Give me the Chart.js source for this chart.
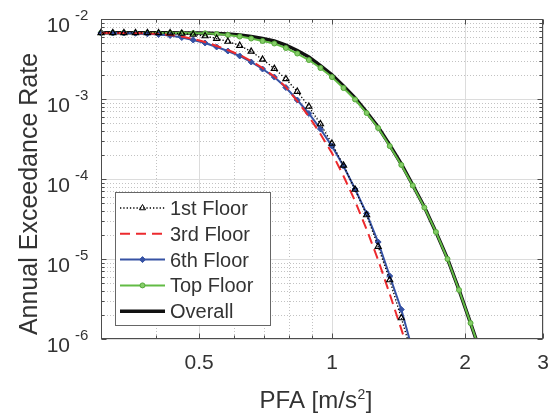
<!DOCTYPE html>
<html>
<head>
<meta charset="utf-8">
<script src="https://cdn.jsdelivr.net/npm/chart.js@4.4.1/dist/chart.umd.min.js"></script>
<style>
    body { margin: 0; background: #ffffff; }
    .chart-container { position: relative; width: 551px; height: 416px; }
</style>
</head>
<body>
<div class="chart-container">
    <canvas id="chart"></canvas>
</div>
<script>
// PFA values [m/s2] of the curve points
const pfa = [0.300, 0.319, 0.338, 0.359, 0.382, 0.405, 0.430, 0.457, 0.485, 0.516,
             0.548, 0.581, 0.618, 0.656, 0.696, 0.740, 0.786, 0.834, 0.886, 0.941,
             0.999, 1.061, 1.127, 1.197, 1.271, 1.350, 1.434, 1.522, 1.617, 1.717,
             1.824, 1.937, 2.057, 2.184];

const floor1 = [6.72e-3, 6.71e-3, 6.71e-3, 6.70e-3, 6.70e-3, 6.69e-3, 6.67e-3, 6.59e-3, 6.40e-3, 6.13e-3,
                5.70e-3, 5.23e-3, 4.66e-3, 3.93e-3, 3.12e-3, 2.40e-3, 1.78e-3, 1.24e-3, 8.06e-4, 4.87e-4,
                2.78e-4, 1.48e-4, 7.39e-5, 3.55e-5, 1.43e-5, 5.46e-6, 1.83e-6, 5.96e-7];

const floor3 = [6.70e-3, 6.70e-3, 6.69e-3, 6.67e-3, 6.59e-3, 6.49e-3, 6.31e-3, 6.04e-3, 5.62e-3, 5.16e-3,
                4.60e-3, 4.10e-3, 3.55e-3, 2.99e-3, 2.44e-3, 1.91e-3, 1.41e-3, 9.44e-4, 6.04e-4, 3.65e-4,
                2.11e-4, 1.09e-4, 5.31e-5, 2.34e-5, 9.72e-6, 3.65e-6, 1.33e-6, 4.73e-7];

const floor6 = [6.70e-3, 6.70e-3, 6.68e-3, 6.63e-3, 6.53e-3, 6.40e-3, 6.22e-3, 5.87e-3, 5.46e-3, 5.01e-3,
                4.47e-3, 3.98e-3, 3.45e-3, 2.90e-3, 2.37e-3, 1.88e-3, 1.39e-3, 9.72e-4, 6.59e-4, 4.22e-4,
                2.58e-4, 1.45e-4, 7.50e-5, 3.70e-5, 1.63e-5, 6.13e-6, 2.34e-6, 7.08e-7];

const topFloor = [6.70e-3, 6.70e-3, 6.70e-3, 6.70e-3, 6.69e-3, 6.69e-3, 6.68e-3, 6.67e-3, 6.65e-3, 6.62e-3,
                  6.49e-3, 6.31e-3, 6.04e-3, 5.70e-3, 5.31e-3, 4.94e-3, 4.34e-3, 3.70e-3, 3.07e-3, 2.44e-3,
                  1.88e-3, 1.37e-3, 9.86e-4, 6.68e-4, 4.34e-4, 2.58e-4, 1.50e-4, 8.29e-5, 4.40e-5, 2.18e-5,
                  1.00e-5, 4.10e-6, 1.58e-6, 5.96e-7];

const overall = [6.72e-3, 6.72e-3, 6.72e-3, 6.72e-3, 6.72e-3, 6.71e-3, 6.71e-3, 6.70e-3, 6.69e-3, 6.67e-3,
                 6.60e-3, 6.49e-3, 6.31e-3, 6.04e-3, 5.70e-3, 5.31e-3, 4.73e-3, 4.04e-3, 3.35e-3, 2.62e-3,
                 2.00e-3, 1.45e-3, 1.03e-3, 6.88e-4, 4.47e-4, 2.66e-4, 1.54e-4, 8.41e-5, 4.47e-5, 2.18e-5,
                 1.01e-5, 4.10e-6, 1.58e-6, 5.96e-7];

const seriesLabels = ['1st Floor', '3rd Floor', '6th Floor', 'Top Floor', 'Overall'];

// axis ticks
const xTicks = [0.5, 1, 2, 3];
const xTickLabels = ['0.5', '1', '2', '3'];
const xMinor = [0.4, 0.6, 0.7, 0.8, 0.9];
const yTicks = [1e-6, 1e-5, 1e-4, 1e-3, 1e-2];
const yTickExp = ['-6', '-5', '-4', '-3', '-2'];

const FONT = '"Liberation Sans", Arial, Helvetica, sans-serif';
const TEXT = '#333333';

function toPoints(values) {
    return values.map((v, i) => ({x: pfa[i], y: v}));
}

function yMinorValues() {
    let out = [];
    yTicks.slice(0, -1).forEach(d => {
        for (let m = 2; m <= 9; m++) out.push(m * d);
    });
    return out;
}

function drawMarker(ctx, style, x, y, r, fill, stroke) {
    ctx.beginPath();
    if (style === 'triangle') {
        ctx.moveTo(x, y - r);
        ctx.lineTo(x + r * 0.87, y + r * 0.5);
        ctx.lineTo(x - r * 0.87, y + r * 0.5);
        ctx.closePath();
    } else if (style === 'rectRot') {
        ctx.moveTo(x, y - r);
        ctx.lineTo(x + r, y);
        ctx.lineTo(x, y + r);
        ctx.lineTo(x - r, y);
        ctx.closePath();
    } else {
        ctx.arc(x, y, r, 0, Math.PI * 2);
    }
    ctx.fillStyle = fill;
    ctx.fill();
    ctx.lineWidth = 1;
    ctx.strokeStyle = stroke;
    ctx.stroke();
}

const matlabAxes = {
    id: 'matlabAxes',
    beforeDatasetsDraw(chart) {
        const {ctx, chartArea: a, scales: {x, y}} = chart;
        ctx.save();
        ctx.lineWidth = 1;
        // minor grid, dotted
        ctx.setLineDash([1, 2]);
        ctx.strokeStyle = '#c2c2c2';
        xMinor.forEach(v => {
            const px = Math.round(x.getPixelForValue(v)) + 0.5;
            ctx.beginPath(); ctx.moveTo(px, a.top); ctx.lineTo(px, a.bottom); ctx.stroke();
        });
        yMinorValues().forEach(v => {
            const py = Math.round(y.getPixelForValue(v)) + 0.5;
            ctx.beginPath(); ctx.moveTo(a.left, py); ctx.lineTo(a.right, py); ctx.stroke();
        });
        // major grid
        ctx.setLineDash([]);
        ctx.strokeStyle = '#dcdcdc';
        xTicks.forEach(v => {
            const px = Math.round(x.getPixelForValue(v)) + 0.5;
            ctx.beginPath(); ctx.moveTo(px, a.top); ctx.lineTo(px, a.bottom); ctx.stroke();
        });
        yTicks.forEach(v => {
            const py = Math.round(y.getPixelForValue(v)) + 0.5;
            ctx.beginPath(); ctx.moveTo(a.left, py); ctx.lineTo(a.right, py); ctx.stroke();
        });
        ctx.restore();
    },
    afterDatasetsDraw(chart) {
        const {ctx, chartArea: a, scales: {x, y}} = chart;
        ctx.save();
        const L = Math.round(a.left) + 0.5, R = Math.round(a.right) - 0.5;
        const T = Math.round(a.top) + 0.5, B = Math.round(a.bottom) - 0.5;

        // box and tick marks (inside)
        ctx.strokeStyle = '#4d4d4d';
        ctx.lineWidth = 1;
        ctx.strokeRect(L, T, R - L, B - T);
        ctx.beginPath();
        xTicks.concat(xMinor).forEach((v, i) => {
            const len = i < xTicks.length ? 5 : 3;
            const px = Math.round(x.getPixelForValue(v)) + 0.5;
            ctx.moveTo(px, B); ctx.lineTo(px, B - len);
            ctx.moveTo(px, T); ctx.lineTo(px, T + len);
        });
        yTicks.concat(yMinorValues()).forEach((v, i) => {
            const len = i < yTicks.length ? 5 : 3;
            const py = Math.round(y.getPixelForValue(v)) + 0.5;
            ctx.moveTo(L, py); ctx.lineTo(L + len, py);
            ctx.moveTo(R, py); ctx.lineTo(R - len, py);
        });
        ctx.stroke();

        // tick labels
        ctx.fillStyle = TEXT;
        ctx.textBaseline = 'alphabetic';
        ctx.font = '21px ' + FONT;
        ctx.textAlign = 'center';
        xTicks.forEach((v, i) => {
            ctx.fillText(xTickLabels[i], x.getPixelForValue(v), 369);
        });
        yTicks.forEach((v, i) => {
            const py = y.getPixelForValue(v);
            ctx.font = '21px ' + FONT;
            ctx.textAlign = 'right';
            ctx.fillText('10', 70, py + 13);
            ctx.font = '15px ' + FONT;
            ctx.textAlign = 'left';
            ctx.fillText(yTickExp[i], 75, py + 1);
        });

        // axis titles
        ctx.font = '24px ' + FONT;
        const part1 = 'PFA [m/s', part3 = ']';
        const w1 = ctx.measureText(part1).width, w3 = ctx.measureText(part3).width;
        ctx.font = '14px ' + FONT;
        const w2 = ctx.measureText('2').width + 1;
        let sx = 316 - (w1 + w2 + w3) / 2;
        ctx.textAlign = 'left';
        ctx.font = '24px ' + FONT;
        ctx.fillText(part1, sx, 408);
        ctx.font = '14px ' + FONT;
        ctx.fillText('2', sx + w1 + 0.5, 399);
        ctx.font = '24px ' + FONT;
        ctx.fillText(part3, sx + w1 + w2, 408);

        ctx.save();
        ctx.translate(37, 194);
        ctx.rotate(-Math.PI / 2);
        ctx.textAlign = 'center';
        ctx.font = '25px ' + FONT;
        ctx.fillText('Annual Exceedance Rate', 0, 0);
        ctx.restore();

        // legend
        const box = {left: 115.5, top: 192.5, right: 270.5, bottom: 325.5};
        ctx.fillStyle = '#ffffff';
        ctx.fillRect(box.left, box.top, box.right - box.left, box.bottom - box.top);
        ctx.strokeStyle = '#666666';
        ctx.lineWidth = 1;
        ctx.strokeRect(box.left, box.top, box.right - box.left, box.bottom - box.top);
        chart.data.datasets.forEach((ds, i) => {
            const cy = 208 + i * 25.8;
            ctx.save();
            ctx.strokeStyle = ds.borderColor;
            ctx.lineWidth = ds.borderWidth;
            ctx.setLineDash(ds.borderDash || []);
            ctx.beginPath(); ctx.moveTo(120, cy); ctx.lineTo(165, cy); ctx.stroke();
            ctx.setLineDash([]);
            if (ds.pointRadius > 0) {
                drawMarker(ctx, ds.pointStyle, 142.5, cy, ds.pointRadius,
                    ds.pointBackgroundColor, ds.pointBorderColor);
            }
            ctx.restore();
            ctx.fillStyle = TEXT;
            ctx.font = '20px ' + FONT;
            ctx.textAlign = 'left';
            ctx.fillText(ds.label, 170, cy + 7);
        });
        ctx.restore();
    }
};

function renderChart() {
    const ctx = document.getElementById('chart').getContext('2d');
    const clip = {left: 5, top: 5, right: 0, bottom: 0};
    const chart = new Chart(ctx, {
        type: 'line',
        data: {
            datasets: [
                {
                    label: seriesLabels[0],
                    data: toPoints(floor1),
                    borderColor: '#000000',
                    borderWidth: 1.3,
                    borderDash: [1.3, 2],
                    pointStyle: 'triangle',
                    pointRadius: 3.5,
                    pointBackgroundColor: 'rgba(255,255,255,0)',
                    pointBorderColor: '#000000',
                    pointBorderWidth: 1.2,
                    clip: clip
                },
                {
                    label: seriesLabels[1],
                    data: toPoints(floor3),
                    borderColor: '#ec2a2e',
                    borderWidth: 2,
                    borderDash: [10, 6],
                    pointRadius: 0,
                    clip: clip
                },
                {
                    label: seriesLabels[2],
                    data: toPoints(floor6),
                    borderColor: '#3652a4',
                    borderWidth: 2,
                    pointStyle: 'rectRot',
                    pointRadius: 3,
                    pointBackgroundColor: '#3652a4',
                    pointBorderColor: '#3652a4',
                    pointBorderWidth: 1,
                    clip: clip
                },
                {
                    label: seriesLabels[3],
                    data: toPoints(topFloor),
                    borderColor: '#62bb45',
                    borderWidth: 2,
                    pointStyle: 'circle',
                    pointRadius: 2.5,
                    pointBackgroundColor: '#86cd68',
                    pointBorderColor: '#52a838',
                    pointBorderWidth: 1,
                    clip: clip
                },
                {
                    label: seriesLabels[4],
                    data: toPoints(overall),
                    borderColor: '#111111',
                    borderWidth: 3.5,
                    pointRadius: 0,
                    clip: clip
                }
            ]
        },
        options: {
            responsive: true,
            maintainAspectRatio: false,
            animation: false,
            layout: {padding: {top: 19, right: 8, left: 0, bottom: 0}},
            elements: {line: {tension: 0}},
            scales: {
                x: {
                    type: 'logarithmic',
                    min: 0.3,
                    max: 3,
                    ticks: {display: false},
                    grid: {display: false},
                    border: {display: false},
                    afterFit: scale => { scale.height = 77; }
                },
                y: {
                    type: 'logarithmic',
                    min: 1e-6,
                    max: 1e-2,
                    ticks: {display: false},
                    grid: {display: false},
                    border: {display: false},
                    afterFit: scale => { scale.width = 101; }
                }
            },
            plugins: {
                legend: {display: false},
                tooltip: {enabled: false}
            }
        },
        plugins: [matlabAxes]
    });
}

renderChart();
</script>
</body>
</html>
